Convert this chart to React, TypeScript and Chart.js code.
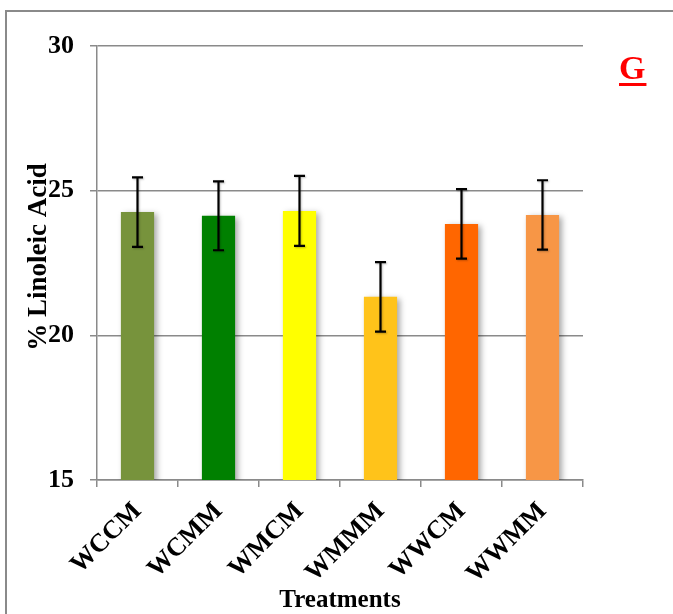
import React, { useEffect, useRef } from 'react';
import { Chart, registerables } from 'chart.js';

Chart.register(...registerables);

const labels = ['WCCM', 'WCMM', 'WMCM', 'WMMM', 'WWCM', 'WWMM'];
const means = [24.26, 24.13, 24.3, 21.33, 23.85, 24.16];
const errors = [1.2, 1.19, 1.21, 1.2, 1.2, 1.2];
const barColors = ['#77933C', '#008000', '#FFFF00', '#FFC31A', '#FF6600', '#F79646'];
const yTicks = [15, 20, 25, 30];
const yTitle = '% Linoleic Acid';
const xTitle = 'Treatments';
const panelLetter = 'G';

const FONT = "'Times New Roman', 'Liberation Serif', serif";
const GRID = '#8a8a8a';

export default function App() {
  const ref = useRef<HTMLCanvasElement | null>(null);

  useEffect(() => {
    if (!ref.current) return;

    const decor = {
      id: 'decor',
      beforeDatasetsDraw(chart: any) {
        const ctx = chart.ctx;
        ctx.save();
        ctx.shadowColor = 'rgba(0,0,0,0.35)';
        ctx.shadowBlur = 6;
        ctx.shadowOffsetX = 3;
        ctx.shadowOffsetY = 2;
      },
      afterDatasetsDraw(chart: any) {
        const ctx = chart.ctx;
        ctx.restore();
        const meta = chart.getDatasetMeta(0);
        const y = chart.scales.y;
        ctx.save();
        ctx.strokeStyle = '#000';
        ctx.lineWidth = 2.2;
        ctx.shadowColor = 'rgba(0,0,0,0.25)';
        ctx.shadowBlur = 2;
        ctx.shadowOffsetX = 1;
        ctx.shadowOffsetY = 1;
        meta.data.forEach((bar: any, i: number) => {
          const x = bar.x;
          const top = y.getPixelForValue(means[i] + errors[i]);
          const bot = y.getPixelForValue(means[i] - errors[i]);
          ctx.beginPath();
          ctx.moveTo(x, top);
          ctx.lineTo(x, bot);
          ctx.moveTo(x - 5.5, top);
          ctx.lineTo(x + 5.5, top);
          ctx.moveTo(x - 5.5, bot);
          ctx.lineTo(x + 5.5, bot);
          ctx.stroke();
        });
        ctx.restore();
      },
      afterDraw(chart: any) {
        const ctx = chart.ctx;
        ctx.save();
        // y-axis title
        ctx.translate(32, 245);
        ctx.rotate(-Math.PI / 2);
        ctx.font = `bold 27px ${FONT}`;
        ctx.fillStyle = '#000';
        ctx.textAlign = 'center';
        ctx.textBaseline = 'middle';
        ctx.fillText(yTitle, 0, 0);
        ctx.restore();

        // panel letter
        ctx.save();
        ctx.font = `bold 34px ${FONT}`;
        ctx.fillStyle = '#FF0000';
        ctx.textAlign = 'left';
        ctx.textBaseline = 'alphabetic';
        const gx = 612;
        const gy = 67;
        ctx.fillText(panelLetter, gx, gy);
        const w = ctx.measureText(panelLetter).width;
        ctx.fillRect(gx, gy + 4, w + 1, 3);
        ctx.restore();
      },
    };

    const chart = new Chart(ref.current, {
      type: 'bar',
      data: {
        labels,
        datasets: [
          {
            data: means,
            backgroundColor: barColors,
            borderWidth: 0,
            barPercentage: 0.41,
            categoryPercentage: 1,
          },
        ],
      },
      options: {
        responsive: false,
        animation: false,
        devicePixelRatio: 1,
        layout: { padding: { left: 0, top: 34, right: 124, bottom: 26 } },
        plugins: { legend: { display: false }, tooltip: { enabled: false } },
        scales: {
          x: {
            grid: {
              display: true,
              drawOnChartArea: false,
              drawTicks: true,
              tickLength: 7,
              color: GRID,
              lineWidth: 1.5,
              offset: true,
            },
            border: { display: true, color: GRID, width: 1.5 },
            ticks: {
              autoSkip: false,
              minRotation: 45,
              maxRotation: 45,
              color: '#000',
              padding: 9,
              font: { family: FONT, size: 26, weight: 'bold' },
            },
            title: {
              display: true,
              text: xTitle,
              color: '#000',
              padding: 0,
              font: { family: FONT, size: 25, weight: 'bold' },
            },
            afterFit(scale: any) {
              scale.height = 136;
            },
          },
          y: {
            min: 15,
            max: 30,
            afterBuildTicks(scale: any) {
              scale.ticks = yTicks.map((v) => ({ value: v }));
            },
            grid: {
              color: GRID,
              lineWidth: 1.5,
              tickLength: 7,
              drawTicks: true,
            },
            border: { display: true, color: GRID, width: 1.5 },
            ticks: {
              color: '#000',
              padding: 16,
              font: { family: FONT, size: 26, weight: 'bold' },
            },
            afterFit(scale: any) {
              scale.width = 90;
            },
          },
        },
      },
      plugins: [decor],
    });

    return () => chart.destroy();
  }, []);

  return (
    <div
      style={{
        position: 'fixed',
        left: 0,
        top: 0,
        width: 673,
        height: 614,
        overflow: 'hidden',
        background: '#fff',
      }}
    >
      <div
        style={{
          position: 'absolute',
          left: 5,
          top: 10,
          width: 700,
          height: 630,
          border: '2px solid #8a8a8a',
        }}
      >
        <canvas ref={ref} width={700} height={630} style={{ display: 'block' }} />
      </div>
    </div>
  );
}
